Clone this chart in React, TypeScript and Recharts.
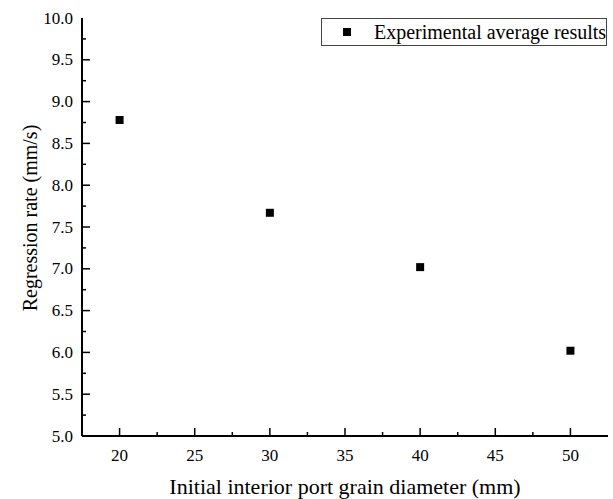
import React from 'react';
import { ScatterChart, Scatter, XAxis, YAxis, Legend } from 'recharts';

const diameters = [20, 30, 40, 50];
const regressionRates = [8.78, 7.67, 7.02, 6.02];
const xTicks = [17.5, 20, 22.5, 25, 27.5, 30, 32.5, 35, 37.5, 40, 42.5, 45, 47.5, 50, 52.5];
const yTicks = [5, 5.25, 5.5, 5.75, 6, 6.25, 6.5, 6.75, 7, 7.25, 7.5, 7.75, 8, 8.25, 8.5, 8.75, 9, 9.25, 9.5, 9.75, 10];
const seriesName = 'Experimental average results';
const xTitle = 'Initial interior port grain diameter (mm)';
const yTitle = 'Regression rate (mm/s)';

const data = diameters.map((d, i) => ({ x: d, y: regressionRates[i] }));

const FONT = '"Liberation Serif", "Times New Roman", serif';

const isMult = (v: number, m: number) => Math.abs(v / m - Math.round(v / m)) < 1e-6;

const renderXTick = (props: any) => {
  const x = Number(props.x);
  const y = Number(props.y);
  const v = Number(props.payload.value);
  const major = isMult(v, 5);
  const edge = v <= 17.5 || v >= 52.5;
  const len = major ? 8 : 4;
  return (
    <g>
      {!edge && <path d={`M${x},${y}L${x},${y - len}`} stroke="#000" strokeWidth={1.5} fill="none" />}
      {major && (
        <text x={x} y={y + 19} textAnchor="middle" dominantBaseline="central" style={{ fontFamily: FONT, fontSize: 17 }} fill="#000">
          {v}
        </text>
      )}
    </g>
  );
};

const renderYTick = (props: any) => {
  const x = Number(props.x);
  const y = Number(props.y);
  const v = Number(props.payload.value);
  const major = isMult(v, 0.5);
  const edge = v <= 5 || v >= 10;
  const len = major ? 8 : 4;
  return (
    <g>
      {!edge && <path d={`M${x},${y}L${x + len},${y}`} stroke="#000" strokeWidth={1.5} fill="none" />}
      {major && (
        <text x={x - 9} y={y} textAnchor="end" dominantBaseline="central" style={{ fontFamily: FONT, fontSize: 17 }} fill="#000">
          {v.toFixed(1)}
        </text>
      )}
    </g>
  );
};

const renderRTick = (props: any) => {
  const x = Number(props.x);
  const y = Number(props.y);
  const v = Number(props.payload.value);
  const major = isMult(v, 0.5);
  const edge = v <= 5 || v >= 10;
  const len = major ? 8 : 4;
  if (edge) return <g />;
  return <path d={`M${x},${y}L${x - len},${y}`} stroke="#000" strokeWidth={1.5} fill="none" />;
};

const LegendBox = () => (
  <div
    style={{
      boxSizing: 'border-box',
      width: 286,
      height: 28,
      border: '1px solid #444',
      background: '#fff',
      display: 'flex',
      alignItems: 'center',
      paddingLeft: 21,
      fontFamily: FONT,
      fontSize: 20,
      color: '#000',
      whiteSpace: 'nowrap',
      overflow: 'visible',
    }}
  >
    <span style={{ display: 'inline-block', width: 8, height: 8, background: '#000', marginRight: 23, flex: 'none' }} />
    <span>{seriesName}</span>
  </div>
);

export default function App() {
  return (
    <div style={{ position: 'absolute', left: 0, top: 0, width: 613, height: 499, background: '#fff' }}>
      <ScatterChart width={613} height={499} margin={{ top: 18, right: 5, bottom: 0, left: 0 }}>
        <XAxis
          xAxisId="bottom"
          dataKey="x"
          type="number"
          domain={[17.5, 52.5]}
          ticks={xTicks}
          interval={0}
          height={63}
          tickSize={0}
          tickMargin={0}
          tickLine={false}
          axisLine={{ stroke: '#000', strokeWidth: 2 }}
          tick={renderXTick}
          label={{ value: xTitle, position: 'center', dy: 19, style: { fontFamily: FONT, fontSize: 22, fill: '#000' } }}
        />
        <XAxis
          xAxisId="top"
          orientation="top"
          type="number"
          domain={[17.5, 52.5]}
          height={0}
          tick={false}
          tickLine={false}
          axisLine={{ stroke: '#000', strokeWidth: 2 }}
        />
        <YAxis
          yAxisId="left"
          dataKey="y"
          type="number"
          domain={[5, 10]}
          ticks={yTicks}
          interval={0}
          width={82}
          tickSize={0}
          tickMargin={0}
          tickLine={false}
          axisLine={{ stroke: '#000', strokeWidth: 2 }}
          tick={renderYTick}
          label={{ value: yTitle, angle: -90, position: 'center', dx: -11, dy: -9, style: { fontFamily: FONT, fontSize: 20, fill: '#000', textAnchor: 'middle' } }}
        />
        <YAxis
          yAxisId="right"
          orientation="right"
          type="number"
          domain={[5, 10]}
          ticks={yTicks}
          interval={0}
          width={0}
          tickSize={0}
          tickMargin={0}
          tickLine={false}
          axisLine={{ stroke: '#000', strokeWidth: 2 }}
          tick={renderRTick}
        />
        <Legend
          layout="horizontal"
          verticalAlign="middle"
          align="center"
          content={<LegendBox />}
          wrapperStyle={{ position: 'absolute', left: 321, top: 18, width: 286, height: 28 }}
        />
        <Scatter
          name={seriesName}
          data={data}
          xAxisId="bottom"
          yAxisId="left"
          fill="#000"
          shape="square"
          isAnimationActive={false}
        />
      </ScatterChart>
    </div>
  );
}
